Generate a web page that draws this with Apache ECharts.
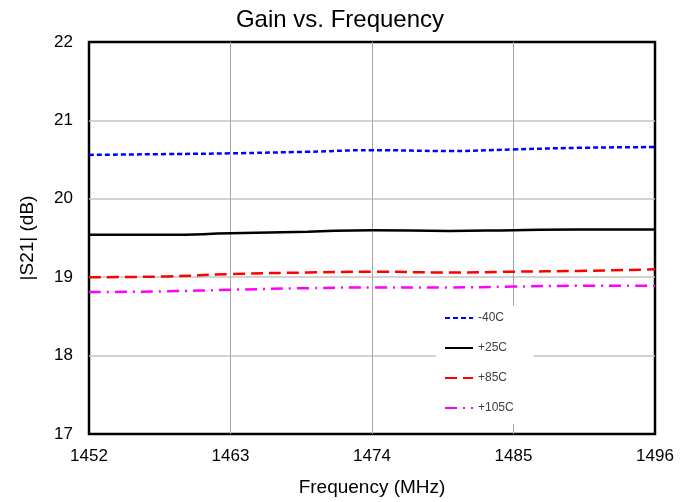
<!DOCTYPE html>
<html>
<head>
<meta charset="utf-8">
<script src="https://cdn.jsdelivr.net/npm/echarts@6/dist/echarts.min.js"></script>
<style>
  html, body { margin: 0; padding: 0; background: #fff; }
  #chart { width: 680px; height: 502px; }
</style>
</head>
<body>
<div id="chart"></div>
<script>
var freq = [1452, 1458, 1463, 1469, 1474, 1480, 1485, 1490, 1496]

var gainM40 = [20.56, 20.57, 20.58, 20.60, 20.62, 20.61, 20.63, 20.65, 20.66]
var gain25 = [19.54, 19.54, 19.56, 19.58, 19.60, 19.59, 19.60, 19.61, 19.61]
var gain85 = [19.00, 19.01, 19.04, 19.06, 19.07, 19.06, 19.07, 19.08, 19.10]
var gain105 = [18.81, 18.82, 18.84, 18.86, 18.87, 18.87, 18.88, 18.89, 18.89]

var names = ['-40C', '+25C', '+85C', '+105C']

function pairs (ys) {
  var out = []
  for (var i = 0; i < freq.length; i++) out.push([freq[i], ys[i]])
  return out
}

function makeSeries (name, ys, color, type) {
  return {
    name: name,
    type: 'line',
    data: pairs(ys),
    smooth: true,
    symbol: 'none',
    lineStyle: { color: color, width: 2.5, type: type },
    itemStyle: { color: color }
  }
}

var chart = echarts.init(document.getElementById('chart'))

chart.setOption({
  animation: false,
  textStyle: { fontFamily: 'Liberation Sans' },
  title: {
    text: 'Gain vs. Frequency',
    left: 'center',
    top: 3,
    textStyle: { fontSize: 24, fontWeight: 'normal', color: '#000' }
  },
  grid: {
    left: 89, right: 25, top: 42, bottom: 68,
    show: true, borderColor: '#000', borderWidth: 2.5
  },
  legend: {
    orient: 'vertical',
    left: 436,
    top: 306,
    padding: [6, 20, 10, 8],
    backgroundColor: '#fff',
    itemWidth: 28,
    itemHeight: 10,
    itemGap: 18,
    itemStyle: { opacity: 0 },
    textStyle: { fontSize: 12, color: '#404040' },
    data: names
  },
  xAxis: {
    type: 'value',
    min: 1452, max: 1496, interval: 11,
    name: 'Frequency (MHz)',
    nameLocation: 'middle',
    nameGap: 44,
    nameTextStyle: { fontSize: 19, color: '#000' },
    axisLine: { show: false },
    axisTick: { show: false },
    axisLabel: { fontSize: 17, color: '#000', margin: 14, formatter: function (v) { return String(v) } },
    splitLine: { showMinLine: false, showMaxLine: false, lineStyle: { color: '#a6a6a6', width: 1 } }
  },
  yAxis: {
    type: 'value',
    min: 17, max: 22, interval: 1,
    name: '|S21| (dB)',
    nameLocation: 'middle',
    nameGap: 52,
    nameTextStyle: { fontSize: 19, color: '#000' },
    axisLine: { show: false },
    axisTick: { show: false },
    axisLabel: { fontSize: 17, color: '#000', margin: 16 },
    splitLine: { showMinLine: false, showMaxLine: false, lineStyle: { color: '#c4c4c4', width: 1.5 } }
  },
  series: [
    makeSeries(names[0], gainM40, '#0000ff', [5, 3]),
    makeSeries(names[1], gain25, '#000000', 'solid'),
    makeSeries(names[2], gain85, '#ff0000', [12, 6]),
    makeSeries(names[3], gain105, '#ff00ff', [12, 6, 2, 6])
  ]
})
</script>
</body>
</html>
